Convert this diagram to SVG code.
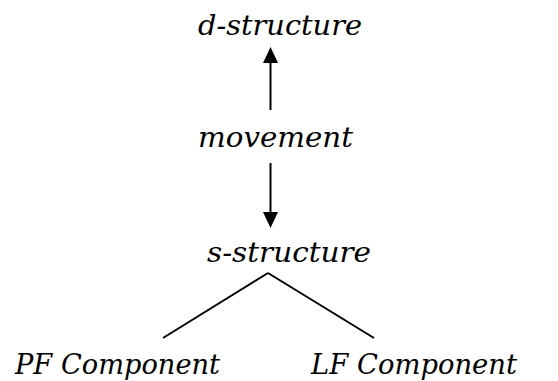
<svg xmlns="http://www.w3.org/2000/svg" width="558" height="381" viewBox="0 0 558 381">
<style>
text{font-family:"DejaVu Serif","Liberation Serif",serif;font-style:italic;font-size:28px;fill:#000}
.c{stroke:#000;stroke-width:2;fill:none}
.h{fill:#000}
</style>
<rect width="558" height="381" fill="#fff"/>
<g id="connectors">
<line class="c" x1="270.5" y1="110" x2="270.5" y2="62"/>
<path class="h" d="M263,63 L270.5,47 L278,63 z"/>
<line class="c" x1="270.5" y1="163" x2="270.5" y2="213"/>
<path class="h" d="M263,212 L270.5,228 L278,212 z"/>
<line class="c" x1="268" y1="273" x2="163" y2="338"/>
<line class="c" x1="268" y1="273" x2="374" y2="338"/>
</g>
<g id="d-structure"><text x="198" y="35" textLength="164" lengthAdjust="spacingAndGlyphs">d-structure</text></g>
<g id="movement"><text x="198" y="147" textLength="155" lengthAdjust="spacingAndGlyphs">movement</text></g>
<g id="s-structure"><text x="207" y="262" textLength="164" lengthAdjust="spacingAndGlyphs">s-structure</text></g>
<g id="pf"><text x="15" y="374" textLength="205" lengthAdjust="spacingAndGlyphs">PF Component</text></g>
<g id="lf"><text x="311" y="374" textLength="206" lengthAdjust="spacingAndGlyphs">LF Component</text></g>
</svg>
